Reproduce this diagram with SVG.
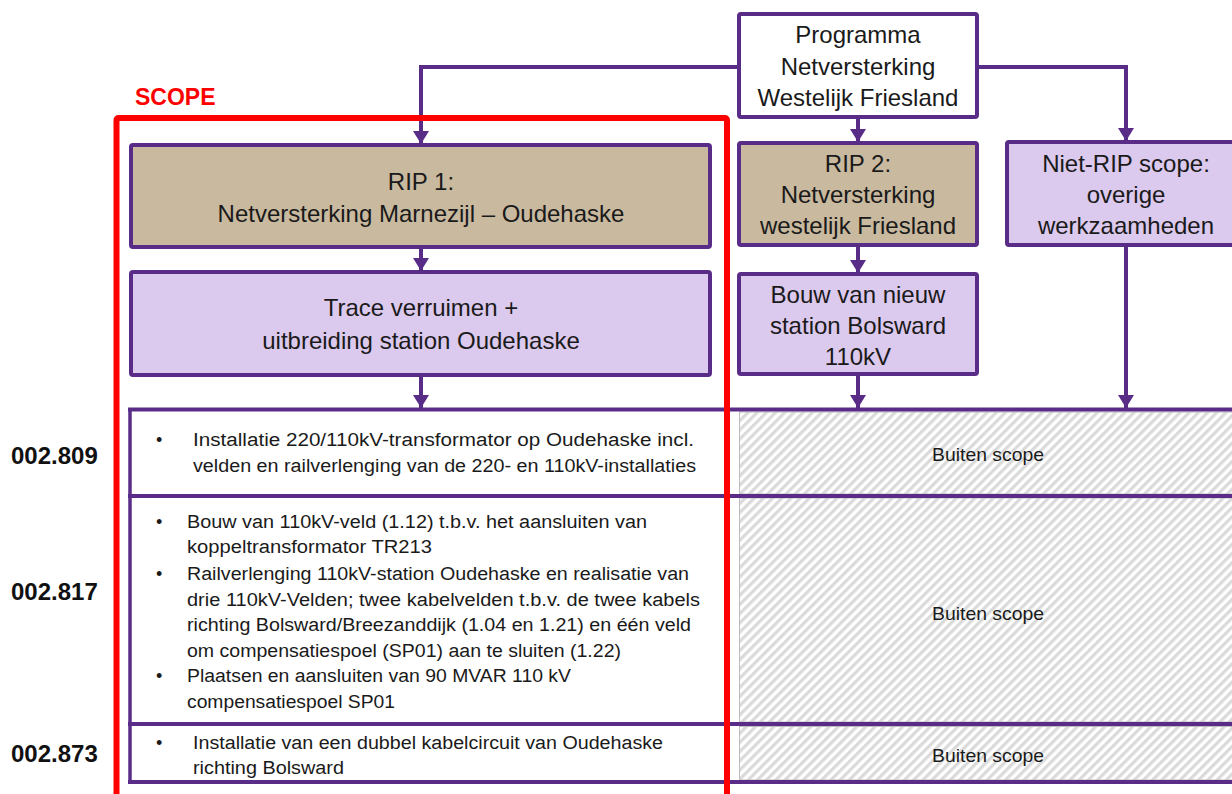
<svg xmlns="http://www.w3.org/2000/svg" width="1232" height="794" viewBox="0 0 1232 794">
<style>
.box{stroke:#592C88;stroke-width:4}
.prog{fill:#FFFFFF}
.tan{fill:#C9B99F}
.lav{fill:#DCC9EE}
.h{font-family:"Liberation Sans",Arial,sans-serif;font-size:24px;fill:#1A1A1A;text-anchor:middle}
.t{font-family:"Liberation Sans",Arial,sans-serif;font-size:18px;fill:#1A1A1A}
.bs{font-family:"Liberation Sans",Arial,sans-serif;font-size:19px;fill:#1A1A1A;text-anchor:middle}
.lbl{font-family:"Liberation Sans",Arial,sans-serif;font-size:24px;font-weight:bold;fill:#111111}
.conn{fill:none;stroke:#592C88;stroke-width:4}
.tline{stroke:#592C88;stroke-width:4}
.hatch{fill:url(#hatch);stroke:#BDBDBD;stroke-width:1}
</style>
<defs>
<marker id="arr" markerUnits="userSpaceOnUse" markerWidth="16" markerHeight="16" refX="13" refY="8" orient="auto" viewBox="0 0 16 16">
<path d="M0,0 L13,8 L0,16 z" fill="#592C88"/>
</marker>
<pattern id="hatch" patternUnits="userSpaceOnUse" width="6.5" height="6.5" patternTransform="rotate(45)">
<rect x="0" y="0" width="6.5" height="6.5" fill="#FFFFFF"/>
<rect x="0" y="0" width="3.2" height="6.5" fill="#DADADA"/>
</pattern>
</defs>

<g id="table">
<rect class="hatch" x="739.5" y="412" width="500" height="82"/>
<rect class="hatch" x="739.5" y="498" width="500" height="224"/>
<rect class="hatch" x="739.5" y="726.5" width="500" height="53.5"/>
<line class="tline" x1="128" y1="409.5" x2="1240" y2="409.5"/>
<line class="tline" x1="128" y1="496" x2="1240" y2="496"/>
<line class="tline" x1="128" y1="724" x2="1240" y2="724"/>
<line class="tline" x1="128" y1="782" x2="1240" y2="782"/>
<line class="tline" x1="130" y1="408" x2="130" y2="784" style="stroke-width:3.5"/>
<line class="tline" x1="727" y1="408" x2="727" y2="784"/>
</g>

<g id="connectors">
<path class="conn" d="M739,67 H421 V144" marker-end="url(#arr)"/>
<path class="conn" d="M977,67 H1126 V141" marker-end="url(#arr)"/>
<path class="conn" d="M858,117 V142" marker-end="url(#arr)"/>
<path class="conn" d="M421,247 V271" marker-end="url(#arr)"/>
<path class="conn" d="M858,245 V273" marker-end="url(#arr)"/>
<path class="conn" d="M421,375 V408" marker-end="url(#arr)"/>
<path class="conn" d="M858,374 V408" marker-end="url(#arr)"/>
<path class="conn" d="M1126,245 V408" marker-end="url(#arr)"/>
</g>

<g id="programma">
<rect class="box prog" x="739" y="14" width="238" height="103" rx="2"/>
<text class="h" x="858" y="43">Programma</text>
<text class="h" x="858" y="75">Netversterking</text>
<text class="h" x="858" y="106">Westelijk Friesland</text>
</g>

<g id="rip1">
<rect class="box tan" x="131" y="145" width="579" height="102" rx="2"/>
<text class="h" x="421" y="190">RIP 1:</text>
<text class="h" x="421" y="222">Netversterking Marnezijl – Oudehaske</text>
</g>

<g id="trace">
<rect class="box lav" x="131" y="272" width="579" height="103" rx="2"/>
<text class="h" x="421" y="316">Trace verruimen +</text>
<text class="h" x="421" y="349">uitbreiding station Oudehaske</text>
</g>

<g id="rip2">
<rect class="box tan" x="739" y="143" width="238" height="102" rx="2"/>
<text class="h" x="858" y="172">RIP 2:</text>
<text class="h" x="858" y="203">Netversterking</text>
<text class="h" x="858" y="234">westelijk Friesland</text>
</g>

<g id="bouw">
<rect class="box lav" x="739" y="274" width="238" height="100" rx="2"/>
<text class="h" x="858" y="303">Bouw van nieuw</text>
<text class="h" x="858" y="334">station Bolsward</text>
<text class="h" x="858" y="365">110kV</text>
</g>

<g id="nietrip">
<rect class="box lav" x="1007" y="142" width="240" height="103" rx="2"/>
<text class="h" x="1126" y="172">Niet-RIP scope:</text>
<text class="h" x="1126" y="203">overige</text>
<text class="h" x="1126" y="234">werkzaamheden</text>
</g>

<g id="row-002809">
<text class="lbl" x="11" y="464">002.809</text>
<text class="t" x="156" y="446">•</text>
<text class="t" x="193" y="446" textLength="501" lengthAdjust="spacingAndGlyphs">Installatie 220/110kV-transformator op Oudehaske incl.</text>
<text class="t" x="193" y="472" textLength="503" lengthAdjust="spacingAndGlyphs">velden en railverlenging van de 220- en 110kV-installaties</text>
<text class="bs" x="988" y="461" textLength="112" lengthAdjust="spacingAndGlyphs">Buiten scope</text>
</g>

<g id="row-002817">
<text class="lbl" x="11" y="600">002.817</text>
<text class="t" x="156" y="528">•</text>
<text class="t" x="187" y="528" textLength="460" lengthAdjust="spacingAndGlyphs">Bouw van 110kV-veld (1.12) t.b.v. het aansluiten van</text>
<text class="t" x="187" y="553" textLength="245" lengthAdjust="spacingAndGlyphs">koppeltransformator TR213</text>
<text class="t" x="156" y="580">•</text>
<text class="t" x="187" y="580" textLength="502" lengthAdjust="spacingAndGlyphs">Railverlenging 110kV-station Oudehaske en realisatie van</text>
<text class="t" x="187" y="606" textLength="513" lengthAdjust="spacingAndGlyphs">drie 110kV-Velden; twee kabelvelden t.b.v. de twee kabels</text>
<text class="t" x="187" y="631" textLength="504" lengthAdjust="spacingAndGlyphs">richting Bolsward/Breezanddijk (1.04 en 1.21) en één veld</text>
<text class="t" x="187" y="657" textLength="434" lengthAdjust="spacingAndGlyphs">om compensatiespoel (SP01) aan te sluiten (1.22)</text>
<text class="t" x="156" y="682">•</text>
<text class="t" x="187" y="682" textLength="384" lengthAdjust="spacingAndGlyphs">Plaatsen en aansluiten van 90 MVAR 110 kV</text>
<text class="t" x="187" y="708" textLength="208" lengthAdjust="spacingAndGlyphs">compensatiespoel SP01</text>
<text class="bs" x="988" y="620" textLength="112" lengthAdjust="spacingAndGlyphs">Buiten scope</text>
</g>

<g id="row-002873">
<text class="lbl" x="11" y="762">002.873</text>
<text class="t" x="156" y="749">•</text>
<text class="t" x="193" y="749" textLength="470" lengthAdjust="spacingAndGlyphs">Installatie van een dubbel kabelcircuit van Oudehaske</text>
<text class="t" x="193" y="774" textLength="151" lengthAdjust="spacingAndGlyphs">richting Bolsward</text>
<text class="bs" x="988" y="762" textLength="112" lengthAdjust="spacingAndGlyphs">Buiten scope</text>
</g>

<g id="scope">
<rect x="116.5" y="118" width="610.5" height="700" rx="2" fill="none" stroke="#FF0000" stroke-width="6"/>
<text x="135" y="105" style="font-family:'Liberation Sans',Arial,sans-serif;font-size:23px;font-weight:bold;fill:#FF0000">SCOPE</text>
</g>
</svg>
